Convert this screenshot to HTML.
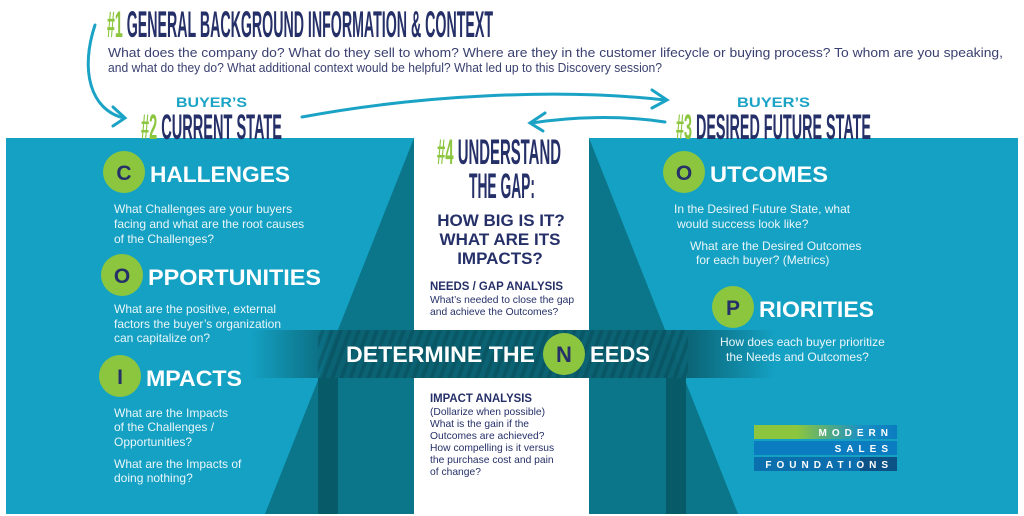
<!DOCTYPE html>
<html><head><meta charset="utf-8"><style>
html,body{margin:0;padding:0;background:#fff;width:1024px;height:516px;overflow:hidden}
svg{display:block}
.h{font-family:"Liberation Sans Narrow","Liberation Sans",sans-serif;font-weight:bold}
.s{font-family:"Liberation Sans",sans-serif}
</style></head><body>
<svg width="1024" height="516" viewBox="0 0 1024 516" xmlns="http://www.w3.org/2000/svg">
<defs>
<linearGradient id="band" gradientUnits="userSpaceOnUse" x1="250" y1="0" x2="775" y2="0">
<stop offset="0" stop-color="#0a6070" stop-opacity="0"/>
<stop offset="0.16" stop-color="#0a6070" stop-opacity="0.9"/>
<stop offset="0.84" stop-color="#0a6070" stop-opacity="0.9"/>
<stop offset="1" stop-color="#0a6070" stop-opacity="0"/>
</linearGradient>
<pattern id="str" width="9" height="48" patternUnits="userSpaceOnUse" patternTransform="skewX(-20)">
<rect width="4" height="48" fill="#05434d" opacity="0.35"/>
</pattern>
<linearGradient id="lg" x1="0" x2="1">
<stop offset="0" stop-color="#8cc63f"/><stop offset="0.3" stop-color="#8cc63f"/><stop offset="0.75" stop-color="#1a8fc4"/><stop offset="1" stop-color="#0b7cc0"/>
</linearGradient>
</defs>
<rect x="6" y="138" width="408" height="376" fill="#14a1c3"/>
<rect x="589" y="138" width="429" height="376" fill="#14a1c3"/>
<polygon points="414,138 414,514 265,514" fill="#0b7589"/>
<polygon points="589,138 589,514 738,514" fill="#0b7589"/>
<rect x="318" y="378" width="20" height="136" fill="#075b68"/>
<rect x="666" y="378" width="20" height="136" fill="#075b68"/>
<!-- band -->
<rect x="414" y="330" width="175" height="48" fill="#0d7482"/>
<rect x="250" y="330" width="525" height="48" fill="url(#band)"/>
<rect x="318" y="330" width="370" height="48" fill="url(#str)"/>

<g fill="none" stroke="#1ba3c6" stroke-width="3" stroke-linecap="round">
<path d="M95,25 C80,70 90,110 124,118"/>
<path d="M113,107 L125,118 L113,126"/>
<path d="M302,117 C420,95 560,88 665,100"/>
<path d="M652,90 L667,100 L652,108"/>
<path d="M665,122 C620,115 570,117 532,123"/>
<path d="M545,113 L530,123 L543,131"/>
</g>

<text class="h" x="107" y="37" font-size="37" textLength="386" lengthAdjust="spacingAndGlyphs" fill="#263068"><tspan fill="#8cc63f">#1</tspan> GENERAL BACKGROUND INFORMATION &amp; CONTEXT</text>
<g class="s" font-size="13" fill="#3a4070">
<text x="108" y="57" textLength="895" lengthAdjust="spacingAndGlyphs">What does the company do? What do they sell to whom? Where are they in the customer lifecycle or buying process? To whom are you speaking,</text>
<text x="108" y="72" textLength="554" lengthAdjust="spacingAndGlyphs">and what do they do? What additional context would be helpful? What led up to this Discovery session?</text>
</g>
<text class="s" x="176" y="107" font-size="14" font-weight="bold" fill="#1ba3c6" textLength="71" lengthAdjust="spacingAndGlyphs">BUYER’S</text>
<text class="h" x="141" y="139" font-size="35" fill="#263068" textLength="141" lengthAdjust="spacingAndGlyphs"><tspan fill="#8cc63f">#2</tspan> CURRENT STATE</text>
<text class="s" x="737" y="107" font-size="14" font-weight="bold" fill="#1ba3c6" textLength="73" lengthAdjust="spacingAndGlyphs">BUYER’S</text>
<text class="h" x="676" y="139" font-size="35" fill="#263068" textLength="195" lengthAdjust="spacingAndGlyphs"><tspan fill="#8cc63f">#3</tspan> DESIRED FUTURE STATE</text>

<text class="h" x="437" y="164" font-size="35" fill="#263068" textLength="124" lengthAdjust="spacingAndGlyphs"><tspan fill="#8cc63f">#4</tspan> UNDERSTAND</text>
<text class="h" x="469" y="198" font-size="35" fill="#263068" textLength="66" lengthAdjust="spacingAndGlyphs">THE GAP:</text>
<g class="s" font-size="17" font-weight="bold" fill="#263068" text-anchor="middle">
<text x="501" y="226">HOW BIG IS IT?</text>
<text x="500" y="245">WHAT ARE ITS</text>
<text x="500" y="264">IMPACTS?</text>
</g>
<g class="s" fill="#263068">
<text x="430" y="290" font-size="11.5" font-weight="bold" textLength="133" lengthAdjust="spacingAndGlyphs">NEEDS / GAP ANALYSIS</text>
<text x="430" y="303" font-size="10.3">What’s needed to close the gap</text>
<text x="430" y="315" font-size="10.3">and achieve the Outcomes?</text>
<text x="430" y="402" font-size="11.5" font-weight="bold" textLength="102" lengthAdjust="spacingAndGlyphs">IMPACT ANALYSIS</text>
<text x="430" y="415" font-size="10.3">(Dollarize when possible)</text>
<text x="430" y="427" font-size="10.3">What is the gain if the</text>
<text x="430" y="439" font-size="10.3">Outcomes are achieved?</text>
<text x="430" y="451" font-size="10.3">How compelling is it versus</text>
<text x="430" y="463" font-size="10.3">the purchase cost and pain</text>
<text x="430" y="475" font-size="10.3">of change?</text>
</g>

<text class="s" x="346" y="362" font-size="22" font-weight="bold" fill="#fff" textLength="189" lengthAdjust="spacingAndGlyphs">DETERMINE THE</text>
<circle cx="564" cy="354" r="21" fill="#8cc63f"/>
<text class="s" x="564" y="362" font-size="22" font-weight="bold" fill="#263068" text-anchor="middle">N</text>
<text class="s" x="590" y="362" font-size="22" font-weight="bold" fill="#fff" textLength="60" lengthAdjust="spacingAndGlyphs">EEDS</text>

<g class="s" font-weight="bold">
<circle cx="124" cy="172" r="21" fill="#8cc63f"/><text x="124" y="180" font-size="21" fill="#263068" text-anchor="middle">C</text>
<text x="150" y="182" font-size="22" fill="#fff" textLength="140" lengthAdjust="spacingAndGlyphs">HALLENGES</text>
<circle cx="122" cy="275" r="21" fill="#8cc63f"/><text x="122" y="283" font-size="21" fill="#263068" text-anchor="middle">O</text>
<text x="148" y="285" font-size="22" fill="#fff" textLength="173" lengthAdjust="spacingAndGlyphs">PPORTUNITIES</text>
<circle cx="120" cy="376" r="21" fill="#8cc63f"/><text x="120" y="384" font-size="21" fill="#263068" text-anchor="middle">I</text>
<text x="146" y="386" font-size="22" fill="#fff" textLength="96" lengthAdjust="spacingAndGlyphs">MPACTS</text>
<circle cx="684" cy="172" r="21" fill="#8cc63f"/><text x="684" y="180" font-size="21" fill="#263068" text-anchor="middle">O</text>
<text x="710" y="182" font-size="22" fill="#fff" textLength="118" lengthAdjust="spacingAndGlyphs">UTCOMES</text>
<circle cx="733" cy="307" r="21" fill="#8cc63f"/><text x="733" y="315" font-size="21" fill="#263068" text-anchor="middle">P</text>
<text x="759" y="317" font-size="22" fill="#fff" textLength="115" lengthAdjust="spacingAndGlyphs">RIORITIES</text>
</g>
<g class="s" font-size="12" fill="#eaf6fa">
<text x="114" y="213">What Challenges are your buyers</text>
<text x="114" y="228">facing and what are the root causes</text>
<text x="114" y="243">of the Challenges?</text>
<text x="114" y="313">What are the positive, external</text>
<text x="114" y="328">factors the buyer’s organization</text>
<text x="114" y="342">can capitalize on?</text>
<text x="114" y="417">What are the Impacts</text>
<text x="114" y="431">of the Challenges /</text>
<text x="114" y="446">Opportunities?</text>
<text x="114" y="468">What are the Impacts of</text>
<text x="114" y="482">doing nothing?</text>
<text x="674" y="213">In the Desired Future State, what</text>
<text x="677" y="228">would success look like?</text>
<text x="690" y="250">What are the Desired Outcomes</text>
<text x="696" y="264">for each buyer? (Metrics)</text>
<text x="720" y="346">How does each buyer prioritize</text>
<text x="726" y="361">the Needs and Outcomes?</text>
</g>

<rect x="754" y="425" width="143" height="14" fill="url(#lg)"/>
<rect x="754" y="441" width="143" height="14" fill="#0b7cc0"/>
<rect x="754" y="457" width="143" height="14" fill="#0b6fae"/>
<rect x="860" y="457" width="37" height="14" fill="#0d3f6a" opacity="0.6"/>
<g class="s" font-size="10" font-weight="bold" fill="#fff" text-anchor="end">
<text x="893" y="436" letter-spacing="5">MODERN</text>
<text x="893" y="452" letter-spacing="5">SALES</text>
<text x="893" y="468" letter-spacing="5">FOUNDATIONS</text>
</g>
</svg>
</body></html>
